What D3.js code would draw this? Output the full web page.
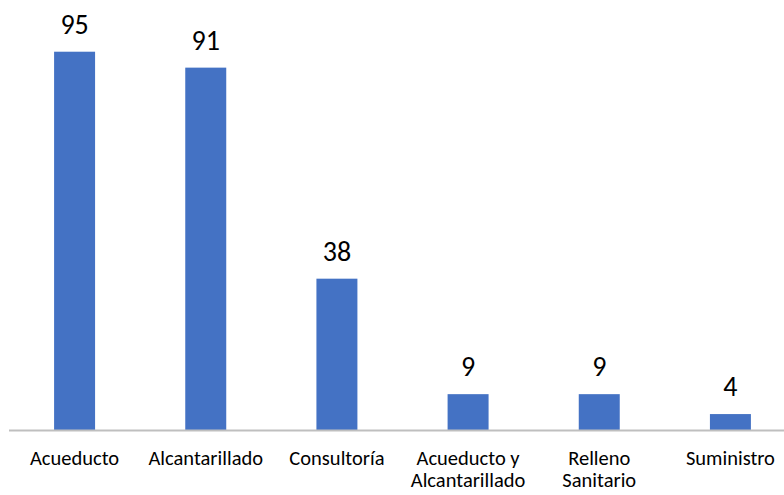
<!DOCTYPE html>
<html>
<head>
<meta charset="utf-8">
<script src="https://cdn.jsdelivr.net/npm/d3@7"></script>
<style>
  html, body { margin: 0; padding: 0; background: #fff; }
  svg { display: block; }
</style>
</head>
<body>
<svg id="chart" width="784" height="495"></svg>
<script>
// Contratos por tipo
const categories = [
  ["Acueducto"],
  ["Alcantarillado"],
  ["Consultoría"],
  ["Acueducto y", "Alcantarillado"],
  ["Relleno", "Sanitario"],
  ["Suministro"]
];
const values = [95, 91, 38, 9, 9, 4];
const keys = categories.map(c => c.join(" "));

const svg = d3.select("#chart");
const baseY = 430;
const fontFamily = "Carlito, Lato, 'Open Sans', sans-serif";

const x = d3.scaleBand()
  .domain(keys)
  .range([9, 796])
  .paddingInner(0.6875)
  .paddingOuter(0.34375);

const y = d3.scaleLinear()
  .domain([0, 100])
  .range([baseY, baseY - 398.2]);

// bars
svg.append("g")
  .selectAll("rect")
  .data(values)
  .join("rect")
  .attr("x", (d, i) => x(keys[i]))
  .attr("width", x.bandwidth())
  .attr("y", d => y(d))
  .attr("height", d => y(0) - y(d))
  .attr("fill", "#4472c4");

// value labels
svg.append("g")
  .selectAll("text")
  .data(values)
  .join("text")
  .attr("x", (d, i) => x(keys[i]) + x.bandwidth() / 2)
  .attr("y", d => y(d) - 18)
  .attr("text-anchor", "middle")
  .attr("font-family", fontFamily)
  .attr("font-size", 28)
  .attr("fill", "#000")
  .text(d => d);

// category axis
const axis = svg.append("g")
  .attr("transform", `translate(0,${baseY})`)
  .call(d3.axisBottom(x).tickSize(0).tickFormat(""));
axis.select(".domain")
  .attr("d", `M9,0.5H784`)
  .attr("stroke", "#bfbfbf")
  .attr("stroke-width", 2);

const labels = svg.append("g")
  .selectAll("text")
  .data(categories)
  .join("text")
  .attr("x", (d, i) => x(keys[i]) + x.bandwidth() / 2)
  .attr("y", 465)
  .attr("text-anchor", "middle")
  .attr("font-family", fontFamily)
  .attr("font-size", 20.5)
  .attr("fill", "#000");

labels.selectAll("tspan")
  .data(d => d)
  .join("tspan")
  .attr("x", function () { return d3.select(this.parentNode).attr("x"); })
  .attr("dy", (d, i) => i === 0 ? 0 : 21.5)
  .text(d => d);
</script>
</body>
</html>
